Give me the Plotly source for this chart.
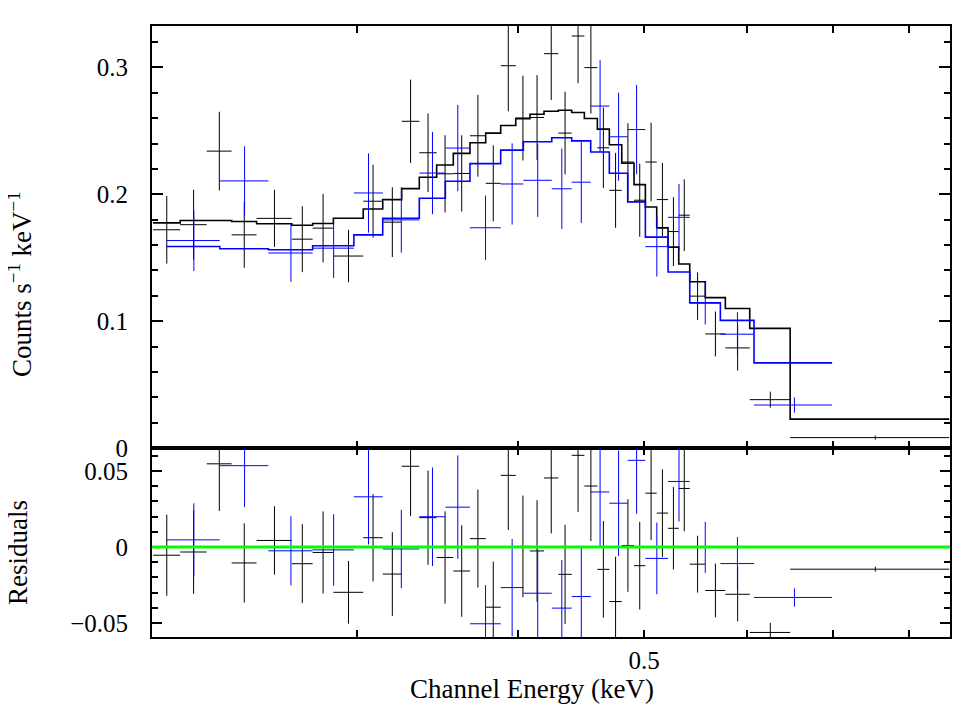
import numpy as np
import plotly.graph_objs as go

# bin edges (keV), rates and errors (counts/s/keV), folded model per bin
black_edges = [0.2090, 0.2193, 0.2299, 0.2403, 0.2512, 0.2674, 0.2775, 0.2879, 0.3036,
               0.3143, 0.3251, 0.3354, 0.3459, 0.3563, 0.3670, 0.3774, 0.3876, 0.3981,
               0.4083, 0.4186, 0.4294, 0.4397, 0.4497, 0.4602, 0.4701, 0.4806, 0.4912,
               0.5012, 0.5114, 0.5218, 0.5318, 0.5423, 0.5575, 0.5777, 0.6033, 0.6482, 0.8600]
black_rate = [0.1720, 0.1760, 0.2340, 0.1680, 0.1810, 0.1646, 0.1733, 0.1513, 0.1945,
              0.1780, 0.2575, 0.2327, 0.2161, 0.2164, 0.2461, 0.2086, 0.3013, 0.2600,
              0.2605, 0.3108, 0.2482, 0.3247, 0.2998, 0.2366, 0.2031, 0.2254, 0.1953,
              0.2254, 0.1958, 0.1706, 0.1835, 0.1197, 0.0899, 0.0789, 0.0381, 0.0082]
black_err = [0.0267, 0.0275, 0.0310, 0.0260, 0.0225, 0.0260, 0.0270, 0.0206, 0.0287,
             0.0275, 0.0328, 0.0310, 0.0304, 0.0301, 0.0322, 0.0300, 0.0359, 0.0334,
             0.0334, 0.0365, 0.0326, 0.0372, 0.0362, 0.0318, 0.0295, 0.0305, 0.0288,
             0.0309, 0.0288, 0.0271, 0.0282, 0.0187, 0.0177, 0.0179, 0.0063, 0.0016]
black_model = [0.1774, 0.1793, 0.1793, 0.1785, 0.1767, 0.1756, 0.1769, 0.1811, 0.1884,
               0.1958, 0.2044, 0.2134, 0.2230, 0.2322, 0.2406, 0.2482, 0.2542, 0.2596,
               0.2631, 0.2654, 0.2662, 0.2644, 0.2597, 0.2513, 0.2390, 0.2244, 0.2076,
               0.1900, 0.1735, 0.1583, 0.1450, 0.1310, 0.1185, 0.1100, 0.0943, 0.0228]

blue_edges = [0.2141, 0.2353, 0.2565, 0.2775, 0.2986, 0.3143, 0.3354, 0.3513, 0.3670,
              0.3876, 0.4035, 0.4244, 0.4397, 0.4548, 0.4701, 0.4857, 0.5012, 0.5218,
              0.5423, 0.5726, 0.6079, 0.6984]
blue_rate = [0.1635, 0.2105, 0.1537, 0.1575, 0.2010, 0.1798, 0.2167, 0.2364, 0.1736,
             0.2081, 0.2110, 0.2043, 0.2095, 0.2695, 0.2453, 0.2510, 0.1587, 0.1818,
             0.1142, 0.0897, 0.0339]
blue_err = [0.0240, 0.0273, 0.0227, 0.0235, 0.0313, 0.0258, 0.0324, 0.0340, 0.0254,
            0.0320, 0.0288, 0.0317, 0.0321, 0.0362, 0.0347, 0.0352, 0.0236, 0.0263,
            0.0168, 0.0174, 0.0060]
blue_model = [0.1588, 0.1570, 0.1562, 0.1594, 0.1680, 0.1811, 0.1968, 0.2102, 0.2241,
              0.2348, 0.2414, 0.2445, 0.2421, 0.2333, 0.2165, 0.1940, 0.1662, 0.1387,
              0.1145, 0.1006, 0.0671]

x_ticks = [0.3, 0.4, 0.5, 0.6, 0.7, 0.8]
x_ticktext = ['', '', '0.5', '', '', '']

TICKFONT = dict(family='Liberation Serif', size=25, color='black')
TITLEFONT = dict(family='Liberation Serif', size=27, color='black')


def add_spectrum(fig, edges, rate, err, model, color):
    edges = np.array(edges)
    centre = (edges[:-1] + edges[1:]) / 2
    half = (edges[1:] - edges[:-1]) / 2
    resid = np.array(rate) - np.array(model)

    # data crosses (error bars only, markers hidden)
    fig.add_trace(go.Scatter(
        x=centre, y=rate, mode='markers', marker=dict(size=1, color=color, opacity=0),
        error_x=dict(type='data', array=half, color=color, thickness=1, width=0),
        error_y=dict(type='data', array=err, color=color, thickness=1, width=0),
        xaxis='x', yaxis='y', showlegend=False
    ))
    # model histogram
    fig.add_trace(go.Scatter(
        x=edges, y=list(model) + [model[-1]], mode='lines', line_shape='hv',
        line=dict(color=color, width=1.6), xaxis='x', yaxis='y', showlegend=False
    ))
    # residuals
    fig.add_trace(go.Scatter(
        x=centre, y=resid, mode='markers', marker=dict(size=1, color=color, opacity=0),
        error_x=dict(type='data', array=half, color=color, thickness=1, width=0),
        error_y=dict(type='data', array=err, color=color, thickness=1, width=0),
        xaxis='x2', yaxis='y2', showlegend=False
    ))


fig = go.Figure()
add_spectrum(fig, black_edges, black_rate, black_err, black_model, '#000000')
add_spectrum(fig, blue_edges, blue_rate, blue_err, blue_model, '#0000ff')

axis_common = dict(showline=True, linewidth=2, linecolor='black', mirror='allticks',
                   ticks='inside', tickcolor='black', showgrid=False, zeroline=False,
                   tickfont=TICKFONT)
xrange = [np.log10(0.2086), np.log10(0.8611)]
split = 0.3093

fig.update_layout(
    width=967, height=708,
    margin=dict(l=144, r=25, t=18, b=79),
    paper_bgcolor='white', plot_bgcolor='white',
    xaxis=dict(axis_common, type='log', range=xrange, anchor='y', domain=[0, 1],
               tickvals=x_ticks, showticklabels=False, ticklen=7, tickwidth=2),
    xaxis2=dict(axis_common, type='log', range=xrange, anchor='y2', domain=[0, 1],
                matches='x', tickvals=x_ticks, ticktext=x_ticktext, ticklen=7,
                tickwidth=2),
    yaxis=dict(axis_common, range=[0, 0.3326], domain=[split, 1], anchor='x',
               tickvals=[0, 0.1, 0.2, 0.3], ticktext=['0', '0.1', '0.2', '0.3'],
               ticklen=11, tickwidth=2, ticklabelstandoff=17,
               minor=dict(dtick=0.02, tick0=0, ticks='inside', ticklen=6,
                          tickwidth=1.5, tickcolor='black')),
    yaxis2=dict(axis_common, range=[-0.0592, 0.0651], domain=[0, split], anchor='x2',
                tickvals=[-0.05, 0, 0.05], ticktext=['\u22120.05', '0', '0.05'],
                ticklen=10, tickwidth=2, ticklabelstandoff=17,
                minor=dict(dtick=0.01, tick0=0, ticks='inside', ticklen=6,
                           tickwidth=1.5, tickcolor='black')),
    shapes=[dict(type='line', xref='x2 domain', yref='y2', x0=0, x1=1, y0=0, y1=0,
                 line=dict(color='#00ff00', width=3))],
    annotations=[
        dict(text='Counts s<sup>\u22121</sup> keV<sup>\u22121</sup>', xref='paper',
             yref='paper', x=-0.1654, y=0.5777, textangle=-90, showarrow=False,
             xanchor='center', yanchor='middle', font=TITLEFONT),
        dict(text='Residuals', xref='paper', yref='paper', x=-0.1679, y=0.1375,
             textangle=-90, showarrow=False, xanchor='center', yanchor='middle',
             font=TITLEFONT),
        dict(text='Channel Energy (keV)', xref='paper', yref='paper', x=0.4762,
             y=-0.0851, showarrow=False, xanchor='center', yanchor='middle',
             font=TITLEFONT),
    ],
)

fig.write_html("out.html")
